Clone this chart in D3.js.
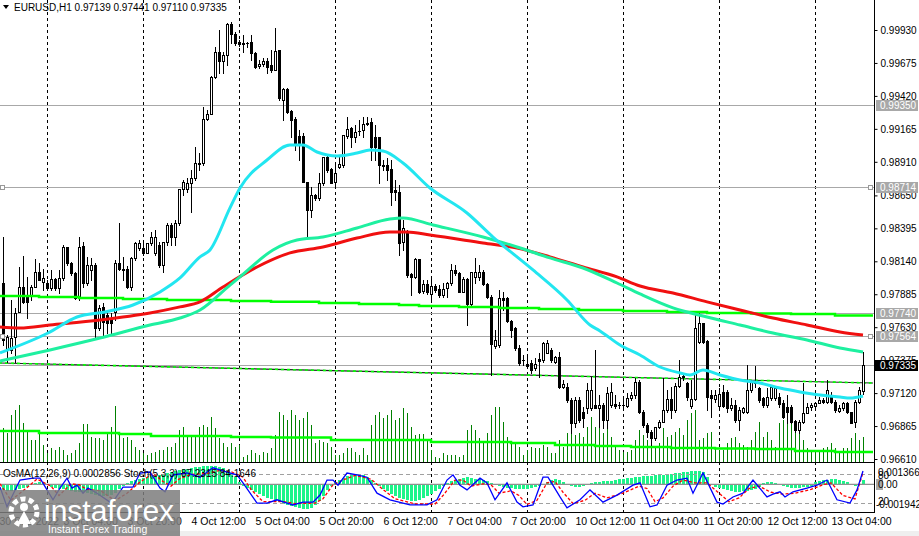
<!DOCTYPE html>
<html><head><meta charset="utf-8">
<script src="https://cdn.jsdelivr.net/npm/d3@7"></script>
<style>body{margin:0;background:#fff;}svg{display:block;}text{font-family:"Liberation Sans",Arial,sans-serif;}</style>
</head><body><svg id="c" width="919" height="536"></svg>
<script>
// ---- DATA (EURUSD H1, bar 0 = 30 Sep 13:00 ... bar 215 = 13 Oct 12:00) ----
const opens=[0.97972,0.97454,0.97454,0.97554,0.97748,0.97941,0.97879,0.97879,0.97941,0.98058,
0.97980,0.97972,0.97933,0.98003,0.97933,0.98011,0.98251,0.98127,0.98050,0.97856,
0.98259,0.97972,0.98073,0.98111,0.97624,0.97787,0.97724,0.97701,0.97748,0.98127,
0.98080,0.98080,0.97941,0.98166,0.98243,0.98243,0.98205,0.98282,0.98205,0.98266,
0.98111,0.98290,0.98421,0.98328,0.98437,0.98700,0.98700,0.98746,0.98785,0.98901,
0.98901,0.99241,0.99280,0.99566,0.99760,0.99690,0.99736,0.99976,0.99899,0.99837,
0.99830,0.99830,0.99837,0.99752,0.99652,0.99667,0.99690,0.99659,0.99620,0.99775,
0.99388,0.99474,0.99303,0.99241,0.99110,0.99110,0.98754,0.98537,0.98653,0.98630,
0.98746,0.98947,0.98855,0.98754,0.98870,0.98885,0.99110,0.99171,0.99102,0.99148,
0.99156,0.99210,0.99218,0.99102,0.99102,0.98885,0.98885,0.98855,0.98692,0.98677,
0.98290,0.98367,0.98042,0.98019,0.98158,0.97910,0.97964,0.97887,0.97949,0.97926,
0.97879,0.97933,0.97972,0.98073,0.98050,0.97903,0.98003,0.97810,0.98019,0.98019,
0.98058,0.97964,0.97864,0.97485,0.97492,0.97856,0.97856,0.97678,0.97624,0.97469,
0.97376,0.97345,0.97353,0.97314,0.97384,0.97376,0.97431,0.97454,0.97361,0.97399,
0.97167,0.97167,0.97067,0.96889,0.97067,0.96974,0.97005,0.97005,0.97028,0.97005,
0.97028,0.96912,0.97028,0.97036,0.97028,0.97028,0.97020,0.97082,0.97105,0.97206,
0.96974,0.96873,0.96819,0.96773,0.96858,0.96897,0.96989,0.97075,0.96989,0.97175,
0.97245,0.97198,0.97020,0.97075,0.97516,0.97663,0.97523,0.97105,0.97075,0.97020,
0.97129,0.97129,0.97005,0.97028,0.96912,0.96974,0.96974,0.97144,0.97206,0.97159,
0.97082,0.97028,0.97082,0.97082,0.97090,0.97044,0.97013,0.97013,0.96904,0.96835,
0.96897,0.96966,0.97013,0.97020,0.97044,0.97067,0.97052,0.97105,0.97052,0.96981,
0.97005,0.97044,0.96974,0.96897,0.97052,0.97139];
const highs=[0.98328,0.97569,0.97841,0.97779,0.98096,0.98182,0.98019,0.97956,0.98158,0.98127,
0.98080,0.97995,0.98073,0.98011,0.98073,0.98266,0.98251,0.98135,0.98058,0.98328,
0.98290,0.98174,0.98166,0.98127,0.97802,0.97818,0.97748,0.97740,0.98150,0.98437,
0.98174,0.98104,0.98174,0.98290,0.98305,0.98290,0.98282,0.98367,0.98382,0.98290,
0.98290,0.98437,0.98437,0.98460,0.98700,0.98769,0.98785,0.98847,0.99024,0.98978,
0.99334,0.99311,0.99574,0.99799,0.99930,0.99760,0.99984,0.99992,0.99915,0.99853,
0.99891,0.99837,0.99891,0.99760,0.99698,0.99713,0.99713,0.99775,0.99945,0.99775,
0.99481,0.99481,0.99311,0.99256,0.99156,0.99133,0.98754,0.98715,0.98661,0.98823,
0.98947,0.98963,0.98862,0.98901,0.98947,0.99117,0.99256,0.99179,0.99194,0.99233,
0.99256,0.99256,0.99249,0.99194,0.99102,0.98924,0.98939,0.98924,0.98769,0.98731,
0.98460,0.98382,0.98050,0.98166,0.98158,0.97995,0.97995,0.98019,0.97964,0.97956,
0.97972,0.97980,0.98119,0.98111,0.98058,0.98019,0.98011,0.98058,0.98166,0.98111,
0.98073,0.97972,0.97879,0.97608,0.97918,0.97903,0.97864,0.97686,0.97632,0.97492,
0.97415,0.97399,0.97376,0.97392,0.97431,0.97516,0.97531,0.97469,0.97407,0.97438,
0.97221,0.97198,0.97082,0.97090,0.97090,0.97013,0.97198,0.97245,0.97454,0.97105,
0.97044,0.97167,0.97198,0.97105,0.97052,0.97090,0.97121,0.97129,0.97237,0.97221,
0.96989,0.96889,0.96835,0.96858,0.96912,0.97237,0.97144,0.97167,0.97198,0.97376,
0.97260,0.97206,0.97221,0.97724,0.97740,0.97663,0.97531,0.97144,0.97144,0.97159,
0.97183,0.97144,0.97082,0.97067,0.97013,0.97013,0.97337,0.97221,0.97330,0.97167,
0.97090,0.97159,0.97167,0.97167,0.97121,0.97067,0.97105,0.97028,0.96912,0.96912,
0.97198,0.97044,0.97044,0.97052,0.97090,0.97082,0.97221,0.97129,0.97067,0.97028,
0.97052,0.97052,0.96974,0.97067,0.97167,0.97441];
const lows=[0.97492,0.97361,0.97431,0.97361,0.97748,0.97818,0.97701,0.97841,0.97941,0.97995,
0.97918,0.97918,0.97918,0.97918,0.97895,0.97995,0.98111,0.98034,0.97848,0.97841,
0.97941,0.97956,0.97995,0.97554,0.97608,0.97554,0.97585,0.97569,0.97686,0.98073,
0.97995,0.97933,0.97918,0.98150,0.98228,0.98189,0.98205,0.98266,0.98189,0.98096,
0.98058,0.98266,0.98266,0.98266,0.98421,0.98653,0.98677,0.98522,0.98769,0.98847,
0.98885,0.99233,0.99280,0.99558,0.99597,0.99597,0.99659,0.99830,0.99814,0.99806,
0.99760,0.99799,0.99698,0.99636,0.99636,0.99652,0.99597,0.99605,0.99620,0.99388,
0.99233,0.99288,0.99102,0.99001,0.98924,0.98754,0.98328,0.98483,0.98614,0.98614,
0.98731,0.98832,0.98746,0.98715,0.98862,0.98870,0.99094,0.99024,0.99063,0.99117,
0.99102,0.99194,0.98924,0.98924,0.98746,0.98847,0.98769,0.98576,0.98614,0.98189,
0.98228,0.98019,0.97879,0.98011,0.97895,0.97895,0.97887,0.97826,0.97903,0.97864,
0.97864,0.97864,0.97956,0.98034,0.97903,0.97903,0.97647,0.97794,0.97972,0.97995,
0.97956,0.97856,0.97260,0.97469,0.97477,0.97763,0.97670,0.97554,0.97454,0.97337,
0.97337,0.97314,0.97276,0.97299,0.97245,0.97361,0.97431,0.97361,0.97353,0.97159,
0.97159,0.97052,0.96812,0.96858,0.96897,0.96858,0.96966,0.96989,0.97005,0.96858,
0.96850,0.96850,0.97013,0.97005,0.97005,0.97005,0.97013,0.97067,0.97082,0.96966,
0.96858,0.96780,0.96718,0.96757,0.96850,0.96897,0.96974,0.96928,0.96974,0.97167,
0.97221,0.97067,0.97005,0.97067,0.97508,0.97508,0.96989,0.96935,0.97052,0.97013,
0.97013,0.96974,0.96989,0.96897,0.96835,0.96966,0.96966,0.97129,0.97167,0.97052,
0.97013,0.97013,0.97067,0.97067,0.97013,0.96928,0.96889,0.96889,0.96819,0.96812,
0.96889,0.96966,0.96989,0.97013,0.97044,0.97044,0.97044,0.97044,0.96974,0.96974,
0.96989,0.96966,0.96889,0.96858,0.97044,0.97110];
const closes=[0.97531,0.97554,0.97546,0.97740,0.97941,0.97826,0.97826,0.97941,0.98058,0.97995,
0.98011,0.97933,0.98003,0.97933,0.98011,0.98251,0.98127,0.98050,0.97856,0.98251,
0.97972,0.98111,0.98111,0.97624,0.97779,0.97670,0.97663,0.97663,0.98127,0.98080,
0.98073,0.97941,0.98166,0.98282,0.98282,0.98205,0.98282,0.98328,0.98328,0.98111,
0.98290,0.98421,0.98328,0.98437,0.98700,0.98754,0.98746,0.98785,0.98901,0.98893,
0.99241,0.99280,0.99566,0.99760,0.99690,0.99736,0.99976,0.99899,0.99830,0.99822,
0.99822,0.99830,0.99752,0.99644,0.99667,0.99690,0.99644,0.99620,0.99768,0.99404,
0.99474,0.99296,0.99233,0.99056,0.99056,0.98754,0.98537,0.98653,0.98630,0.98746,
0.98947,0.98847,0.98746,0.98823,0.98893,0.99117,0.99164,0.99102,0.99140,0.99146,
0.99202,0.99202,0.99024,0.99024,0.98885,0.98880,0.98847,0.98677,0.98677,0.98282,
0.98398,0.98034,0.98019,0.98158,0.97903,0.97964,0.97903,0.97949,0.97918,0.97879,
0.97926,0.97972,0.98073,0.98050,0.97903,0.98003,0.97810,0.98058,0.98058,0.98058,
0.97964,0.97864,0.97500,0.97531,0.97856,0.97841,0.97678,0.97608,0.97469,0.97353,
0.97380,0.97330,0.97299,0.97345,0.97368,0.97508,0.97508,0.97376,0.97399,0.97167,
0.97190,0.97067,0.96889,0.97067,0.96912,0.96928,0.97144,0.97144,0.97005,0.97028,
0.96912,0.97121,0.97129,0.97020,0.97031,0.97025,0.97082,0.97105,0.97206,0.96974,
0.96873,0.96819,0.96773,0.96858,0.96897,0.96989,0.97075,0.96989,0.97175,0.97245,
0.97252,0.97090,0.97075,0.97624,0.97663,0.97516,0.97090,0.97082,0.97105,0.97113,
0.97020,0.97005,0.97028,0.96912,0.96989,0.97005,0.97144,0.97206,0.97198,0.97067,
0.97028,0.97090,0.97167,0.97159,0.97036,0.96935,0.96974,0.96897,0.96835,0.96897,
0.96966,0.97013,0.97028,0.97044,0.97067,0.97052,0.97144,0.97052,0.96989,0.97005,
0.97044,0.96974,0.96889,0.97052,0.97144,0.97335];
const volumes=[3400,2900,4700,5200,5700,3900,3000,2200,2200,3000,
1700,900,1400,1200,1500,1200,700,900,1200,1900,
3800,3800,2500,2400,2400,2200,3000,3500,5600,2900,
2400,2500,2200,1500,1200,900,700,900,1000,1200,
1200,1500,1500,1900,3200,3500,2700,2700,2500,3500,
3700,3500,4500,3400,2400,1900,1500,1900,1500,1700,
500,700,1200,900,700,1000,900,1400,2700,5000,
4700,4200,5200,4700,4200,4400,5000,3700,1900,2200,
2000,1900,1500,700,700,900,1400,1400,1000,700,
1400,700,3700,4700,5000,4400,4700,5200,4200,4400,
5400,4900,3500,2700,2800,2800,2200,1200,500,400,
900,700,700,700,500,700,3200,3700,3200,2400,
1900,2900,4700,5500,5500,4000,2500,2000,1900,1500,
700,1200,1500,1400,1400,1700,1500,900,900,2200,
1500,2900,2900,2700,2900,2500,3500,4500,3500,3500,
2900,3500,2500,1500,1200,1000,1000,1200,2200,3200,
2700,2200,1900,1500,1900,3400,2500,2700,3000,3400,
2700,4200,4900,5200,2200,2400,2900,3000,1500,1200,
1200,1900,2400,2500,1900,1700,1500,2200,3000,4000,
2500,3000,2200,1500,3900,4200,4500,4200,3900,3000,
2200,1400,1200,1000,1200,1400,1500,1900,1400,900,
1400,1400,2400,2900,2200,2500];
const osma=[-0.00042,-0.00049,-0.00049,-0.00042,-0.00035,-0.00028,-0.00021,-0.00007,0.00007,0.00014,
0.00007,-0.00007,-0.00021,-0.00028,-0.00035,-0.00035,-0.00042,-0.00049,-0.00056,-0.00056,
-0.00056,-0.00063,-0.00070,-0.00077,-0.00084,-0.00084,-0.00084,-0.00077,-0.00063,-0.00035,
-0.00014,0.00007,0.00021,0.00028,0.00035,0.00042,0.00049,0.00056,0.00056,0.00063,
0.00070,0.00077,0.00084,0.00092,0.00099,0.00106,0.00106,0.00113,0.00120,0.00120,
0.00127,0.00127,0.00127,0.00127,0.00120,0.00113,0.00099,0.00077,0.00049,0.00014,
-0.00014,-0.00028,-0.00042,-0.00056,-0.00070,-0.00084,-0.00099,-0.00106,-0.00120,-0.00127,
-0.00141,-0.00148,-0.00155,-0.00162,-0.00169,-0.00176,-0.00176,-0.00169,-0.00148,-0.00120,
-0.00084,-0.00042,-0.00014,0.00014,0.00028,0.00042,0.00056,0.00063,0.00070,0.00070,
0.00063,0.00049,0.00028,0.00007,-0.00014,-0.00035,-0.00049,-0.00070,-0.00084,-0.00099,
-0.00106,-0.00113,-0.00120,-0.00120,-0.00113,-0.00099,-0.00084,-0.00070,-0.00049,-0.00035,
-0.00014,0.00007,0.00021,0.00028,0.00035,0.00042,0.00049,0.00042,0.00035,0.00035,
0.00028,0.00021,0.00007,-0.00007,-0.00014,-0.00021,-0.00028,-0.00028,-0.00035,-0.00035,
-0.00035,-0.00035,-0.00028,-0.00021,-0.00014,0.00003,0.00014,0.00028,0.00035,0.00028,
0.00014,-0.00007,-0.00014,-0.00021,-0.00021,-0.00014,-0.00007,0.00007,0.00014,0.00014,
0.00021,0.00021,0.00021,0.00028,0.00035,0.00035,0.00042,0.00042,0.00049,0.00049,
0.00056,0.00056,0.00056,0.00063,0.00063,0.00063,0.00070,0.00070,0.00077,0.00077,
0.00084,0.00084,0.00092,0.00092,0.00092,0.00084,0.00049,-0.00007,-0.00021,-0.00028,
-0.00035,-0.00042,-0.00049,-0.00056,-0.00056,-0.00049,-0.00049,-0.00042,-0.00035,-0.00021,
0.00007,0.00014,0.00014,0.00007,-0.00007,-0.00014,-0.00021,-0.00028,-0.00028,-0.00028,
-0.00021,-0.00021,-0.00014,0.00014,0.00021,0.00028,0.00028,0.00035,0.00035,0.00028,
0.00021,0.00014,-0.00007,-0.00014,0.00001,0.00029];
// moving averages read at sample bars: [bar index], [price]
const cyanIdx=[-0.75,11.25,18.5,25.5,32.5,39.25,44.25,49.25,51.75,56.75,59.25,66,71.75,75,78.5,83.5,88.5,91.75,95,100,106.75,116,122.5,132.5,141,146.75,149.25,154.25,159.25,164.25,169.25,171.75,175,179.25,184.25,189.25,194.25,199.25,204.25,209.25,211.75,215];
const cyanVal=[0.97431,0.97585,0.97709,0.97748,0.97802,0.97903,0.98011,0.98174,0.98228,0.98553,0.98707,0.98924,0.99040,0.99040,0.98986,0.98955,0.98978,0.99001,0.98993,0.98901,0.98707,0.98514,0.98328,0.98073,0.97841,0.97647,0.97601,0.97492,0.97415,0.97322,0.97276,0.97260,0.97299,0.97260,0.97221,0.97198,0.97159,0.97129,0.97105,0.97090,0.97082,0.97098];
const tealIdx=[-0.75,11.75,24.25,36.75,44.25,49.25,56.75,59.25,67.5,73.5,80,88.5,96.75,100,107.5,120,128.5,136.75,145,153.5,159.25,167.5,176,184.25,192.5,201,209.25,215];
const tealVal=[0.97368,0.97454,0.97546,0.97647,0.97701,0.97763,0.97956,0.98019,0.98228,0.98305,0.98328,0.98398,0.98467,0.98475,0.98421,0.98328,0.98251,0.98166,0.98088,0.97972,0.97887,0.97779,0.97709,0.97647,0.97585,0.97531,0.97469,0.97438];
const redIdx=[-0.75,4.25,11.75,24.25,36.75,44.25,49.25,55,63.5,71.75,80,88.5,96.75,101,106.75,120,128.5,136.75,145,153.5,159.25,167.5,176,184.25,192.5,201,209.25,215];
const redVal=[0.97632,0.97624,0.97647,0.97686,0.97740,0.97787,0.97826,0.97941,0.98096,0.98205,0.98251,0.98320,0.98367,0.98367,0.98343,0.98282,0.98243,0.98174,0.98096,0.98019,0.97949,0.97895,0.97826,0.97763,0.97701,0.97647,0.97593,0.97569];
const limeIdx=[-1,9,19,30,41,57,67,79,89,99,104,114,124,134,144,155,166,176,187,197,208,217.5];
const limeVal=[0.97872,0.97864,0.97856,0.97848,0.97841,0.97833,0.97826,0.97818,0.97810,0.97802,0.97794,0.97787,0.97779,0.97771,0.97763,0.97755,0.97748,0.97740,0.97736,0.97732,0.97720,0.97720];
const trendIdx=[-1,217.5];
const trendVal=[0.97353,0.97198];
const volMaIdx=[-1,9,29,37,57,67,82,107,127,138,148,157,167,178,188,198,208,217.5];
const volMaVal=[3100,2900,2800,2600,2500,2450,2200,2000,1900,1700,1600,1500,1400,1350,1300,1100,1000,1000];
const stochIdx=[-0.75,1,4.25,7.5,9.25,11,12.5,14.25,16,17.25,18.5,20,21.25,23.5,26.75,28,30,32.5,34.25,36.75,39.25,40.5,42.5,46,49.25,52.5,56,58.5,60,63.5,66,68.5,71,72.5,75,77.5,79.25,81,82.5,83.75,86,88.5,91,93.5,96.75,101.75,106,108.5,111,112.5,114.25,116,119.25,121,123,126,128.5,130,132.5,135,136.25,139.25,141,144.25,146.75,150,153.5,157.5,159.25,161.75,163.5,166,168.5,171,172.5,175,178.5,180,182.5,185,187.5,191,192.5,194.25,195.5,197.5,201,203.5,206,208.5,211.75,213.5,215];
const stochVal=[53,11,68,72,72,47,26,51,72,51,57,40,51,40,21,28,53,53,83,85,51,43,79,83,74,94,85,79,62,19,19,26,19,15,21,21,36,68,68,57,83,79,74,40,26,15,15,26,68,79,57,47,72,62,26,62,21,11,15,74,74,32,9,26,47,21,36,57,62,11,15,57,68,72,40,83,21,17,32,40,68,32,38,43,32,43,51,57,68,26,19,47,87.2];
const signalIdx=[-0.75,2,5,8.5,12,14,17,19,21,24.5,28,31,34,37.5,40,42,44,47,51,54,57,60,62,65,70,73,78,80,82.5,85,88,92,95,98,103,108,110,113,115,117,120,122,124,127,129,131,133.5,136,138,140,142.5,145.5,148,151,155,159,161,163,165,167.5,170,173,176,179,181.5,184,186.5,189,192,195,198,202,205,207,210,213,215];
const signalVal=[60,25,45,70,55,35,60,58,48,45,24,40,62,82,65,55,70,80,82,88,86,74,48,22,22,18,19,28,58,68,78,70,48,28,17,17,35,68,68,55,60,58,40,45,35,16,25,62,65,42,18,25,40,30,40,55,50,22,30,55,68,62,62,40,22,30,50,55,42,38,40,48,58,62,35,28,84.2];
const priceTicks=[0.99930,0.99675,0.99420,0.99165,0.98910,0.98650,0.98395,0.98140,0.97885,0.97630,0.97375,0.97120,0.96865,0.96610];
const hLinePrices=[0.99350,0.98714,0.97740,0.97564];
const markedLines=[0.98714,0.97564];
const lastPrice=0.97335;
const dayIdx=[11,35,59,83,107,131,155,179,203];
const timeLabelIdx=[-1,15,31,47,63,79,95,111,127,143,159,175,191,207];
const timeLabels=["30 Sep 2022","3 Oct 04:00","3 Oct 20:00","4 Oct 12:00","5 Oct 04:00","5 Oct 20:00","6 Oct 12:00","7 Oct 04:00","7 Oct 20:00","10 Oct 12:00","11 Oct 04:00","11 Oct 20:00","12 Oct 12:00","13 Oct 04:00"];

// ---- DRAW ----
const W=919,H=536,R=874,MB=462,ST=463,SB=512;
const svg=d3.select("#c");
const x=d3.scaleLinear().domain([0,215]).range([3,863]);
const y=d3.scaleLinear().domain([0.96610,0.99930]).range([459,30]);
const yVol=d3.scaleLinear().domain([0,6000]).range([MB,402]);
const yOs=d3.scaleLinear().domain([-0.001942,0.0013668]).range([SB,465]);
const ySt=d3.scaleLinear().domain([0,100]).range([SB,465]);
const defs=svg.append("defs");
defs.append("clipPath").attr("id","cm").append("rect").attr("x",0).attr("y",0).attr("width",R).attr("height",MB);
defs.append("clipPath").attr("id","cs").append("rect").attr("x",0).attr("y",ST).attr("width",R).attr("height",SB-ST);
svg.append("rect").attr("width",W).attr("height",H).attr("fill","#fff");

// grid (day separators)
svg.append("g").selectAll("line").data(dayIdx).join("line")
 .attr("x1",d=>Math.round(x(d))+0.5).attr("x2",d=>Math.round(x(d))+0.5)
 .attr("y1",0).attr("y2",SB).attr("stroke","#000").attr("stroke-dasharray","3,3").attr("stroke-width",1);

const main=svg.append("g").attr("clip-path","url(#cm)");
const bars=d3.range(closes.length);
// volumes
main.append("g").selectAll("line").data(bars).join("line")
 .attr("x1",i=>Math.round(x(i))+0.5).attr("x2",i=>Math.round(x(i))+0.5)
 .attr("y1",MB).attr("y2",i=>yVol(volumes[i])).attr("stroke","#008000").attr("stroke-width",1);
main.append("path").datum(volMaIdx.map((d,k)=>[d,volMaVal[k]]))
 .attr("d",d3.line().x(d=>x(d[0])).y(d=>yVol(d[1])).curve(d3.curveStepAfter))
 .attr("fill","none").attr("stroke","#00ff00").attr("stroke-width",2.5);

// horizontal lines
main.append("g").selectAll("line").data(hLinePrices.concat([lastPrice])).join("line")
 .attr("x1",0).attr("x2",R).attr("y1",d=>Math.round(y(d))+0.5).attr("y2",d=>Math.round(y(d))+0.5)
 .attr("stroke","#a8a8a8").attr("stroke-width",1.2);

// trend line
const trend=trendIdx.map((d,k)=>[d,trendVal[k]]);
const lp=d3.line().x(d=>x(d[0])).y(d=>y(d[1]));
main.append("path").datum(trend).attr("d",lp).attr("fill","none").attr("stroke","#222").attr("stroke-width",1.2);
main.append("path").datum(trend).attr("d",lp).attr("fill","none").attr("stroke","#00ff00").attr("stroke-width",1.6).attr("stroke-dasharray","3,3");

// candles
const cg=main.append("g").attr("shape-rendering","crispEdges");
bars.forEach(i=>{
  const cx=Math.round(x(i));
  const o=opens[i],c=closes[i];
  cg.append("line").attr("x1",cx+0.5).attr("x2",cx+0.5)
    .attr("y1",Math.round(y(highs[i]))).attr("y2",Math.round(y(lows[i]))+1).attr("stroke","#000");
  const top=Math.round(y(Math.max(o,c))), bot=Math.round(y(Math.min(o,c)));
  if(c>=o){
    cg.append("rect").attr("x",cx-0.5).attr("y",top+0.5).attr("width",2).attr("height",Math.max(0.01,bot-top))
      .attr("fill","#fff").attr("stroke","#000").attr("stroke-width",1);
  } else {
    cg.append("rect").attr("x",cx-1).attr("y",top).attr("width",3).attr("height",Math.max(1,bot-top+1)).attr("fill","#000");
  }
});

// moving averages
const ml=d3.line().x(d=>x(d[0])).y(d=>y(d[1])).curve(d3.curveMonotoneX);
main.append("path").datum(limeIdx.map((d,k)=>[d,limeVal[k]]))
 .attr("d",d3.line().x(d=>x(d[0])).y(d=>y(d[1])).curve(d3.curveStepAfter))
 .attr("fill","none").attr("stroke","#00ff00").attr("stroke-width",2.5);
main.append("path").datum(redIdx.map((d,k)=>[d,redVal[k]])).attr("d",ml).attr("fill","none").attr("stroke","#f01010").attr("stroke-width",3);
main.append("path").datum(tealIdx.map((d,k)=>[d,tealVal[k]])).attr("d",ml).attr("fill","none").attr("stroke","#1ef0a0").attr("stroke-width",3);
main.append("path").datum(cyanIdx.map((d,k)=>[d,cyanVal[k]])).attr("d",ml).attr("fill","none").attr("stroke","#22e6f0").attr("stroke-width",3);

// line markers
markedLines.forEach(p=>{
  const yy=Math.round(y(p));
  [[0,yy-2],[R-6,yy-2]].forEach(q=>svg.append("rect").attr("x",q[0]+0.5).attr("y",q[1]+0.5).attr("width",4).attr("height",4)
     .attr("fill","#fff").attr("stroke","#999"));
});

// header
svg.append("path").attr("d","M3,5 L9,5 L6,9 Z").attr("fill","#000");
svg.append("text").attr("x",14).attr("y",11).attr("font-size",10).attr("fill","#000")
 .text("EURUSD,H1  "+[opens[215],highs[215],lows[215],closes[215]].map(d3.format(".5f")).join(" "));

// sub window
const sub=svg.append("g").attr("clip-path","url(#cs)");
sub.append("g").selectAll("rect").data(bars).join("rect")
 .attr("x",i=>Math.round(x(i))-1).attr("width",3)
 .attr("y",i=>Math.min(yOs(0),yOs(osma[i]))).attr("height",i=>Math.abs(yOs(osma[i])-yOs(0)))
 .attr("fill","#1cf58a").attr("shape-rendering","crispEdges");
sub.append("line").attr("x1",0).attr("x2",R).attr("y1",yOs(0)).attr("y2",yOs(0)).attr("stroke","#909090").attr("stroke-width",1.2);
[80,20].forEach(l=>sub.append("line").attr("x1",0).attr("x2",R).attr("y1",Math.round(ySt(l))+0.5).attr("y2",Math.round(ySt(l))+0.5)
  .attr("stroke","#a0a0a0").attr("stroke-dasharray","4,3"));
const sl=d3.line().x(d=>x(d[0])).y(d=>ySt(d[1]));
sub.append("path").datum(signalIdx.map((d,k)=>[d,signalVal[k]])).attr("d",sl).attr("fill","none").attr("stroke","#ff0000").attr("stroke-width",1.3).attr("stroke-dasharray","3,2");
sub.append("path").datum(stochIdx.map((d,k)=>[d,stochVal[k]])).attr("d",sl).attr("fill","none").attr("stroke","#0000ff").attr("stroke-width",1.3);
svg.append("text").attr("x",3).attr("y",477).attr("font-size",10).attr("fill","#000")
 .text("OsMA(12,26,9) 0.0002856  Stoch(5,3,3) 87.2315 84.1646");

// frame lines
svg.append("line").attr("x1",0).attr("x2",R).attr("y1",MB+0.5).attr("y2",MB+0.5).attr("stroke","#000");
svg.append("line").attr("x1",0).attr("x2",R).attr("y1",SB+0.5).attr("y2",SB+0.5).attr("stroke","#000");
svg.append("line").attr("x1",R+0.5).attr("x2",R+0.5).attr("y1",0).attr("y2",SB+1).attr("stroke","#000");

// price axis
const ax=svg.append("g").attr("transform",`translate(${R+0.5},0)`)
 .call(d3.axisRight(y).tickValues(priceTicks).tickSize(3).tickPadding(3).tickFormat(d3.format(".5f")));
ax.select(".domain").remove();
ax.selectAll("text").attr("font-size",10).attr("font-family","Liberation Sans, Arial").attr("fill","#000");
ax.selectAll("line").attr("stroke","#000");

// price labels for lines
hLinePrices.forEach(p=>{
  const yy=Math.round(y(p));
  svg.append("rect").attr("x",R+2).attr("y",yy-5).attr("width",42).attr("height",11).attr("fill","#a8a8a8");
  svg.append("text").attr("x",R+6).attr("y",yy+4).attr("font-size",10).attr("fill","#fff").text(d3.format(".5f")(p));
});
{
  const yy=Math.round(y(lastPrice));
  svg.append("rect").attr("x",R+1).attr("y",yy-5).attr("width",43).attr("height",11).attr("fill","#000");
  svg.append("text").attr("x",R+6).attr("y",yy+4).attr("font-size",10).attr("fill","#fff").text(d3.format(".5f")(lastPrice));
}

// sub axis labels
svg.append("text").attr("x",R+4).attr("y",476).attr("font-size",10).text("0.0013668");
svg.append("text").attr("x",R+4).attr("y",479).attr("font-size",10).text("80");
svg.append("rect").attr("x",R+2).attr("y",Math.round(yOs(0))-5).attr("width",7).attr("height",11).attr("fill","#a8a8a8");
svg.append("text").attr("x",R+4).attr("y",Math.round(yOs(0))+4).attr("font-size",10).text("0.00");
svg.append("text").attr("x",R+4).attr("y",505).attr("font-size",10).text("20");
svg.append("text").attr("x",R+2).attr("y",508).attr("font-size",10).text("-0.001942");

// time axis
const tx=svg.append("g").attr("transform",`translate(0,${SB+1})`)
 .call(d3.axisBottom(x).tickValues(timeLabelIdx).tickSize(0).tickPadding(0).tickFormat((d,k)=>timeLabels[k]));
tx.select(".domain").remove();
tx.selectAll("text").attr("text-anchor","start").attr("dy",0).attr("y",12).attr("font-size",10.5)
  .attr("font-family","Liberation Sans, Arial").attr("fill","#000");
svg.append("rect").attr("x",0).attr("y",531).attr("width",W).attr("height",5).attr("fill","#efefef");

// watermark
const wm=svg.append("g");
wm.append("rect").attr("x",0).attr("y",490).attr("width",180).attr("height",46).attr("fill","#7d7d7d").attr("opacity",0.85);
wm.append("circle").attr("cx",24).attr("cy",512).attr("r",13).attr("fill","none").attr("stroke","#fff").attr("stroke-width",5).attr("stroke-dasharray","5,3.2");
wm.append("circle").attr("cx",24).attr("cy",507).attr("r",4).attr("fill","#fff");
wm.append("path").attr("d","M17,524 L24,511 L31,524 Z").attr("fill","#fff");
wm.append("text").attr("x",44).attr("y",521).attr("font-size",30).attr("fill","#fff").text("instaforex");
wm.append("text").attr("x",48).attr("y",533).attr("font-size",10.5).attr("fill","#fff").text("Instant Forex Trading");
</script></body></html>
